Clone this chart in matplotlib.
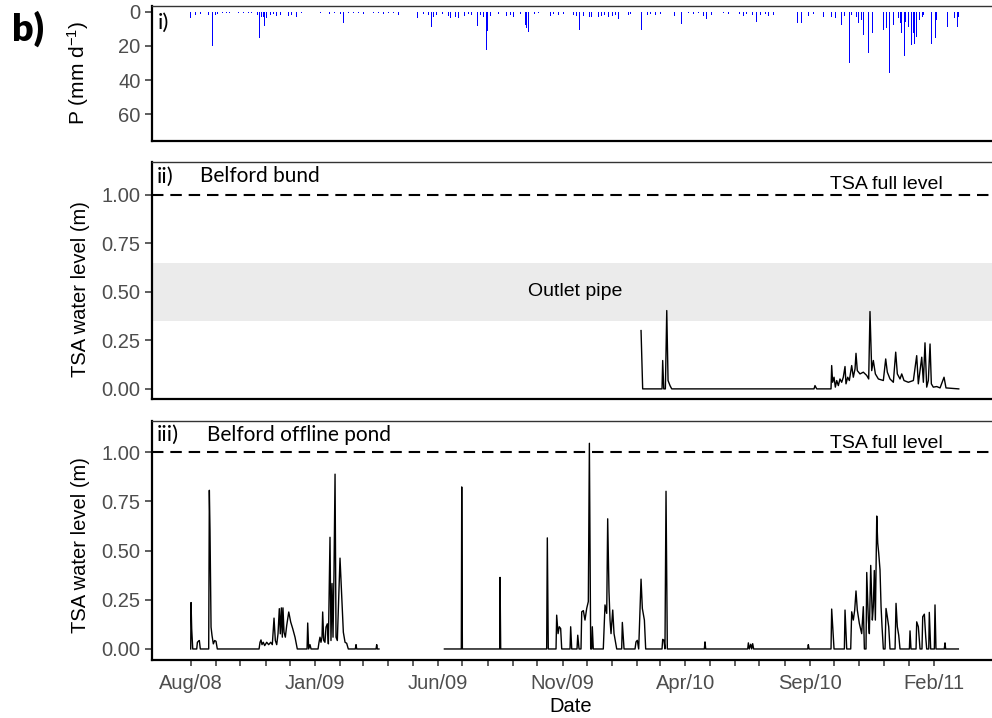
import numpy as np
import pandas as pd
import matplotlib
matplotlib.use('Agg')
import matplotlib.pyplot as plt

plt.rcParams['font.family'] = ['Liberation Sans', 'DejaVu Sans']
plt.rcParams['mathtext.default'] = 'regular'

start = pd.Timestamp('2008-08-01')

# daily rainfall: day offset from start, mm
rain_day = [0, 6, 9, 12, 20, 22, 25, 27, 30, 33,
            36, 39, 44, 48, 52, 59, 65, 71, 75, 79,
            82, 84, 85, 87, 89, 91, 93, 95, 98, 102,
            105, 110, 116, 120, 124, 130, 136, 154, 160, 165,
            171, 177, 184, 188, 194, 200, 206, 212, 218, 225,
            231, 237, 243, 249, 255, 261, 277, 279, 283, 286,
            292, 296, 298, 302, 309, 317, 319, 325, 329, 331,
            337, 341, 345, 352, 356, 360, 364, 365, 368, 374,
            378, 388, 393, 397, 401, 405, 411, 413, 415, 417,
            423, 427, 442, 446, 452, 458, 465, 470, 474, 478,
            483, 487, 490, 493, 497, 501, 505, 509, 513, 518,
            522, 526, 538, 541, 554, 556, 561, 565, 571, 577,
            583, 589, 595, 599, 603, 612, 618, 624, 630, 634,
            637, 640, 655, 661, 669, 675, 679, 683, 690, 695,
            700, 706, 710, 716, 733, 739, 746, 751, 755, 759,
            765, 771, 778, 782, 788, 793, 798, 800, 804, 810,
            812, 814, 818, 821, 824, 827, 830, 833, 835, 838,
            841, 851, 855, 859, 862, 864, 870, 872, 874, 877,
            879, 882, 884, 886, 888, 890, 892, 896, 899, 901,
            910, 911, 915, 917, 930, 939, 942, 944]
rain_mm = [3.9, 2.0, 2.6, 1.5, 2.9, 1.9, 2.5, 19.9, 1.9, 1.4,
           1.9, 1.0, 1.0, 0.6, 0.4, 0.6, 1.0, 0.6, 1.0, 0.6,
           1.9, 2.5, 15.6, 3.3, 2.9, 8.4, 3.9, 2.5, 1.9, 1.4,
           2.5, 1.9, 1.4, 2.5, 1.9, 2.9, 1.0, 0.6, 1.0, 0.6,
           1.4, 1.0, 1.4, 6.4, 1.0, 0.6, 1.0, 1.4, 0.6, 1.0,
           0.6, 1.4, 0.6, 1.0, 1.9, 1.0, 6.4, 3.9, 1.9, 1.4,
           1.9, 8.8, 2.9, 1.9, 1.4, 2.5, 3.9, 2.9, 3.9, 1.9,
           2.5, 1.4, 1.9, 8.4, 1.9, 2.9, 22.4, 11.0, 2.5, 1.9,
           1.4, 2.5, 1.9, 2.9, 1.9, 1.4, 7.7, 9.7, 11.7, 2.9,
           1.4, 1.0, 2.5, 1.4, 1.9, 1.4, 6.4, 1.9, 2.5, 10.7,
           2.5, 2.9, 3.3, 2.9, 3.9, 2.9, 2.5, 1.9, 2.9, 2.5,
           1.9, 4.5, 1.9, 1.4, 10.7, 3.9, 1.9, 1.4, 1.9, 1.4,
           1.9, 1.4, 2.5, 2.9, 7.2, 1.0, 1.4, 1.0, 2.5, 4.5,
           15.0, 1.9, 1.0, 1.4, 1.0, 1.4, 2.5, 1.4, 1.9, 5.9,
           1.9, 1.4, 2.5, 1.9, 1.4, 1.9, 6.4, 6.8, 1.9, 2.5,
           1.4, 2.5, 2.9, 5.9, 2.9, 3.9, 11.7, 7.7, 2.5, 29.8,
           1.9, 8.8, 2.9, 6.8, 4.9, 13.6, 10.7, 24.3, 15.6, 12.7,
           4.9, 10.7, 9.7, 35.7, 4.9, 7.7, 3.9, 6.8, 12.7, 25.9,
           5.9, 8.8, 4.9, 19.5, 12.7, 18.6, 14.7, 4.9, 2.9, 1.9,
           18.6, 72.1, 15.6, 4.9, 8.8, 3.9, 8.8, 2.9]

# Belford bund TSA water level (m)
bund_day = [553.5, 555.5, 579.3, 580.1, 581.4, 583.4, 585.1, 586.7, 589.1, 591.2,
            766.1, 767.3, 769.4, 787.0, 787.8, 789.0, 790.7, 792.3, 794.0, 796.0,
            798.0, 800.1, 802.1, 804.2, 805.4, 807.5, 809.5, 812.4, 814.4, 816.5,
            817.7, 819.3, 822.6, 826.7, 830.9, 833.3, 834.9, 837.0, 839.0, 841.5,
            845.2, 851.3, 854.2, 856.2, 859.5, 863.6, 866.5, 868.5, 871.8, 873.9,
            876.7, 882.0, 888.2, 892.3, 894.3, 898.5, 900.5, 902.5, 904.6, 906.6,
            908.7, 910.3, 912.7, 916.9, 921.0, 925.9, 928.3, 944.0]
bund_level = [0.30, 0.0, 0.0, 0.146, 0.0, 0.0, 0.403, 0.043, 0.017, 0.0,
              0.0, 0.017, 0.0, 0.0, 0.12, 0.034, 0.06, 0.009, 0.043, 0.017,
              0.051, 0.034, 0.06, 0.115, 0.026, 0.06, 0.043, 0.12, 0.06, 0.103,
              0.183, 0.094, 0.077, 0.086, 0.069, 0.051, 0.398, 0.094, 0.146, 0.077,
              0.051, 0.043, 0.154, 0.086, 0.051, 0.034, 0.189, 0.077, 0.051, 0.077,
              0.043, 0.034, 0.043, 0.171, 0.026, 0.163, 0.034, 0.237, 0.009, 0.043,
              0.231, 0.026, 0.009, 0.012, 0.005, 0.06, 0.005, 0.0]

# Belford offline pond TSA water level (m), nan = logger gap
pond_day = [0.0, 0.4, 1.2, 2.5, 7.4, 8.2, 9.4, 10.6, 11.8, 22.1,
            22.9, 23.7, 25.0, 26.2, 27.8, 29.5, 31.1, 32.7, 84.0, 85.2,
            86.4, 87.6, 89.2, 90.9, 93.4, 95.8, 98.3, 100.3, 102.4, 104.0,
            105.7, 107.3, 108.9, 110.1, 111.4, 112.6, 113.4, 114.7, 116.3, 118.0,
            120.5, 122.9, 125.4, 128.2, 131.0, 143.0, 143.8, 145.0, 146.6, 147.9,
            156.5, 157.7, 158.9, 160.1, 161.4, 162.2, 163.5, 165.0, 166.3, 167.9,
            169.2, 171.2, 172.4, 173.7, 174.9, 176.1, 177.4, 178.6, 180.2, 183.5,
            185.6, 187.6, 189.7, 191.7, 193.7, 202.3, 203.2, 204.0, 227.8, 228.6,
            229.4, 231.4, 270.0, 311.8, 332.6, 333.1, 333.9, 379.8, 380.2, 381.0,
            437.5, 438.3, 439.5, 449.0, 449.8, 451.5, 453.0, 454.7, 456.0, 466.2,
            467.0, 468.3, 474.8, 475.7, 477.3, 479.7, 480.6, 482.6, 484.6, 486.7,
            488.7, 490.0, 491.6, 492.9, 493.6, 494.8, 507.1, 509.2, 511.3, 512.5,
            514.1, 515.4, 516.6, 518.7, 520.3, 523.6, 529.7, 530.5, 532.6, 546.1,
            547.3, 548.9, 550.6, 552.2, 553.5, 555.1, 557.6, 559.2, 579.3, 580.1,
            581.7, 582.9, 584.2, 585.8, 631.3, 632.1, 633.0, 684.6, 685.4, 686.6,
            688.3, 689.5, 690.7, 691.9, 758.3, 759.1, 760.0, 787.0, 787.8, 790.7,
            803.4, 804.2, 806.3, 811.2, 812.4, 814.4, 816.1, 817.7, 819.3, 821.8,
            824.7, 826.7, 828.0, 830.0, 830.9, 832.9, 834.1, 835.8, 837.8, 839.0,
            840.2, 841.5, 843.2, 844.4, 845.6, 847.2, 848.5, 849.7, 851.3, 853.4,
            854.6, 856.2, 857.9, 859.5, 865.7, 866.9, 868.5, 870.2, 871.8, 883.3,
            884.1, 885.3, 891.5, 892.3, 894.3, 896.4, 898.8, 899.7, 901.7, 903.4,
            904.6, 907.1, 907.8, 909.5, 914.0, 914.8, 916.0, 926.2, 927.1, 927.9,
            943.5]
pond_level = [0.0, 0.236, 0.103, 0.0, 0.0, 0.034, 0.039, 0.043, 0.0, 0.0,
              0.807, 0.607, 0.111, 0.068, 0.026, 0.043, 0.039, 0.0, 0.0, 0.034,
              0.046, 0.022, 0.034, 0.017, 0.034, 0.022, 0.034, 0.022, 0.157, 0.043,
              0.022, 0.077, 0.205, 0.077, 0.209, 0.06, 0.209, 0.085, 0.06, 0.12,
              0.188, 0.137, 0.103, 0.06, 0.0, 0.0, 0.132, 0.0, 0.022, 0.0,
              0.0, 0.034, 0.06, 0.034, 0.06, 0.188, 0.043, 0.034, 0.111, 0.128,
              0.026, 0.568, 0.043, 0.333, 0.06, 0.385, 0.889, 0.06, 0.043, 0.462,
              0.265, 0.085, 0.034, 0.029, 0.0, 0.0, 0.022, 0.0, 0.0, 0.022,
              0.0, 0.0, np.nan, 0.0, 0.0, 0.824, 0.0, 0.0, 0.364, 0.0,
              0.0, 0.565, 0.0, 0.0, 0.172, 0.078, 0.113, 0.104, 0.0, 0.0,
              0.113, 0.0, 0.0, 0.07, 0.0, 0.0, 0.189, 0.195, 0.147, 0.206,
              0.241, 1.046, 0.0, 0.0, 0.113, 0.0, 0.0, 0.224, 0.181, 0.662,
              0.292, 0.147, 0.078, 0.198, 0.078, 0.0, 0.0, 0.135, 0.0, 0.0,
              0.036, 0.044, 0.0, 0.198, 0.355, 0.206, 0.147, 0.0, 0.0, 0.049,
              0.044, 0.0, 0.802, 0.0, 0.0, 0.036, 0.0, 0.0, 0.031, 0.0,
              0.024, 0.0, 0.027, 0.0, 0.0, 0.022, 0.0, 0.0, 0.203, 0.0,
              0.0, 0.198, 0.0, 0.0, 0.189, 0.147, 0.198, 0.295, 0.198, 0.13,
              0.078, 0.215, 0.0, 0.0, 0.389, 0.147, 0.078, 0.425, 0.147, 0.215,
              0.399, 0.147, 0.676, 0.539, 0.488, 0.403, 0.215, 0.113, 0.0, 0.0,
              0.206, 0.164, 0.113, 0.0, 0.0, 0.232, 0.113, 0.07, 0.0, 0.0,
              0.092, 0.0, 0.0, 0.138, 0.113, 0.0, 0.0, 0.164, 0.177, 0.061,
              0.0, 0.0, 0.186, 0.0, 0.0, 0.224, 0.0, 0.0, 0.031, 0.0,
              0.0]

full_level = 1.0
pipe_band = (0.35, 0.65)
month_ticks = pd.date_range('2008-08-01', '2011-02-01', freq='MS')
xlims = (pd.Timestamp('2008-06-15'), pd.Timestamp('2011-04-17'))


def to_dates(days):
    return start + pd.to_timedelta(np.asarray(days, dtype=float), unit='D')


fig = plt.figure(figsize=(9.92, 7.18), dpi=100)
ax1 = fig.add_axes([0.1537, 0.8036, 0.8497, 0.1884])
ax2 = fig.add_axes([0.1537, 0.4443, 0.8497, 0.3297])
ax3 = fig.add_axes([0.1537, 0.0808, 0.8497, 0.3333])

grey = '#4d4d4d'
for ax in (ax1, ax2, ax3):
    ax.set_xlim(*xlims)
    for s in ('left', 'bottom'):
        ax.spines[s].set_linewidth(1.6)
        ax.spines[s].set_color('black')
    for s in ('top', 'right'):
        ax.spines[s].set_linewidth(1.0)
        ax.spines[s].set_color('#333333')
    ax.tick_params(axis='y', direction='out', length=5, width=1.1, color='#333333',
                   labelsize=14.5, labelcolor=grey, pad=3.5)
    ax.set_xticks(month_ticks)
    ax.tick_params(axis='x', direction='out', length=4, width=1.1, color='#333333',
                   labelsize=14.5, labelcolor=grey, pad=6)

for ax in (ax1, ax2):
    ax.tick_params(axis='x', length=0, labelbottom=False)

# i) rainfall
ax1.bar(to_dates(rain_day), rain_mm, width=1.0, color='blue', linewidth=0)
ax1.set_ylim(75.6, -3.5)
ax1.set_yticks([0, 20, 40, 60])
ax1.text(0.006, 0.876, 'i)', transform=ax1.transAxes, fontsize=16, family='Lato',
         ha='left', va='center')

lvl_ticks = [0.0, 0.25, 0.5, 0.75, 1.0]

# ii) bund
ax2.axhspan(*pipe_band, color='#ebebeb', lw=0, zorder=0)
ax2.plot(to_dates(bund_day), bund_level, color='black', lw=1.0)
ax2.axhline(full_level, color='black', lw=1.5, dashes=(5.5, 3.3))
ax2.set_ylim(-0.052, 1.166)
ax2.set_yticks(lvl_ticks)
ax2.set_yticklabels([f'{v:.2f}' for v in lvl_ticks])
ax2.text(0.005, 0.94, 'ii)', transform=ax2.transAxes, fontsize=16, family='Lato',
         ha='left', va='center')
ax2.text(0.0564, 0.942, 'Belford bund', transform=ax2.transAxes, fontsize=15,
         family='Lato', ha='left', va='center')
ax2.text(0.871, 0.905, 'TSA full level', transform=ax2.transAxes, fontsize=14,
         ha='center', va='center')
ax2.text(0.501, 0.5, 'Outlet pipe', transform=ax2.get_yaxis_transform(), fontsize=14,
         ha='center', va='center')

# iii) offline pond
ax3.plot(to_dates(pond_day), pond_level, color='black', lw=1.0)
ax3.axhline(full_level, color='black', lw=1.5, dashes=(5.5, 3.3))
ax3.set_ylim(-0.056, 1.161)
ax3.set_yticks(lvl_ticks)
ax3.set_yticklabels([f'{v:.2f}' for v in lvl_ticks])
ax3.text(0.005, 0.94, 'iii)', transform=ax3.transAxes, fontsize=16, family='Lato',
         ha='left', va='center')
ax3.text(0.0643, 0.94, 'Belford offline pond', transform=ax3.transAxes, fontsize=15,
         family='Lato', ha='left', va='center')
ax3.text(0.871, 0.905, 'TSA full level', transform=ax3.transAxes, fontsize=14,
         ha='center', va='center')
ax3.set_xticklabels([d.strftime('%b/%y') if i % 5 == 0 else ''
                     for i, d in enumerate(month_ticks)])

fig.text(78 / 992, 1 - 73 / 718, 'P (mm d$^{-1}$)', rotation=90, fontsize=15,
         ha='center', va='center')
fig.text(80 / 992, 1 - 289 / 718, 'TSA water level (m)', rotation=90, fontsize=14.5,
         ha='center', va='center')
fig.text(80 / 992, 1 - 545 / 718, 'TSA water level (m)', rotation=90, fontsize=14.5,
         ha='center', va='center')
fig.text(571 / 992, 1 - 706 / 718, 'Date', fontsize=14.5, ha='center', va='center')
fig.text(28 / 992, 1 - 29 / 718, 'b)', fontsize=27, family='Lato', weight='heavy',
         ha='center', va='center')

fig.savefig('out.png', dpi=100)
